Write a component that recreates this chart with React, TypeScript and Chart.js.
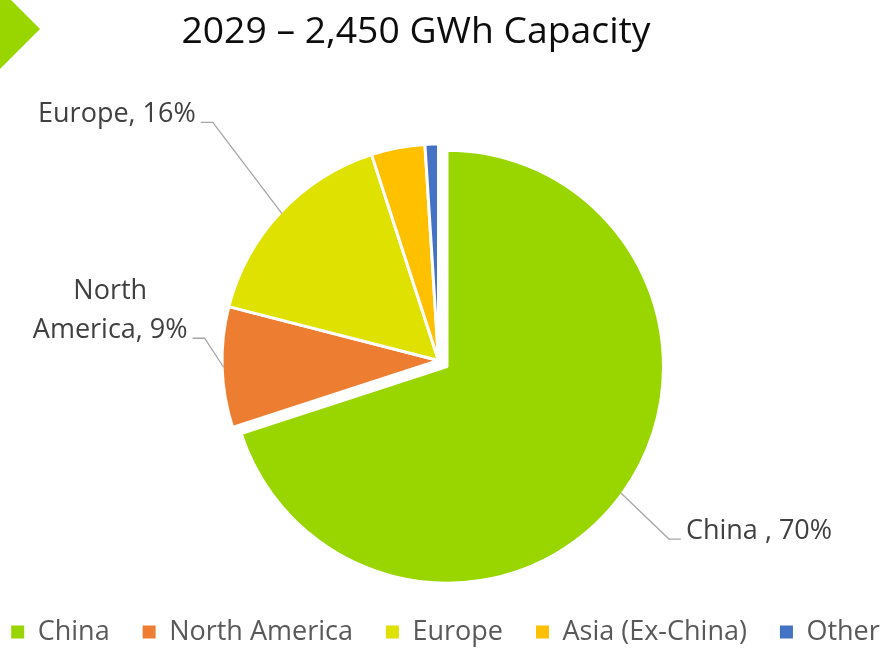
import React, { useEffect, useRef } from "react";
import { Chart, registerables } from "chart.js";

Chart.register(...registerables);

// ---- data ----
const categories = ["China", "North America", "Europe", "Asia (Ex-China)", "Other"];
const shares = [70, 9, 16, 4, 1];
const sliceColors = ["#99D600", "#ED7D31", "#DFE200", "#FFC000", "#4472C4"];
const titleText = "2029 – 2,450 GWh Capacity";
const dataLabels: (string[] | null)[] = [["China , 70%"], ["North", "America, 9%"], ["Europe, 16%"], null, null];
const explodeDistance = [10.5, 0, 0, 0, 0];

// ---- style ----
const FONT = "'Open Sans', sans-serif";
const CANVAS_SHIFT = 6; // canvas is placed this many px left of the page origin
const labelLayout: ({ dx: number; dy: number; side: number } | null)[] = [
  { dx: 48, dy: 46, side: 1 },
  { dx: -19, dy: -29, side: -1 },
  { dx: -69, dy: -91, side: -1 },
  null,
  null,
];

const explodePlugin = {
  id: "explodeSlices",
  afterDatasetsUpdate(chart: any) {
    const meta = chart.getDatasetMeta(0);
    meta.data.forEach((arc: any, i: number) => {
      const d = explodeDistance[i];
      if (!d) return;
      const mid = (arc.startAngle + arc.endAngle) / 2;
      arc.x += Math.cos(mid) * d;
      arc.y += Math.sin(mid) * d;
    });
  },
};

const leaderLabelPlugin = {
  id: "leaderLabels",
  afterDatasetsDraw(chart: any) {
    const ctx = chart.ctx as CanvasRenderingContext2D;
    const meta = chart.getDatasetMeta(0);
    meta.data.forEach((arc: any, i: number) => {
      const lay = labelLayout[i];
      const lines = dataLabels[i];
      if (!lay || !lines) return;
      const mid = (arc.startAngle + arc.endAngle) / 2;
      const r = arc.outerRadius - 1.5;
      const ax = arc.x + Math.cos(mid) * r;
      const ay = arc.y + Math.sin(mid) * r;
      const ex = ax + lay.dx;
      const ey = ay + lay.dy;
      const hx = ex + lay.side * 12;
      ctx.save();
      ctx.strokeStyle = "#A6A6A6";
      ctx.lineWidth = 1.3;
      ctx.beginPath();
      ctx.moveTo(ax, ay);
      ctx.lineTo(ex, ey);
      ctx.lineTo(hx, ey);
      ctx.stroke();
      ctx.font = `27px ${FONT}`;
      ctx.fillStyle = "#404040";
      ctx.textBaseline = "alphabetic";
      ctx.textAlign = "center";
      const w = Math.max(...lines.map((l) => ctx.measureText(l).width));
      const left = lay.side > 0 ? hx + 5 : hx - 5 - w;
      lines.forEach((l, k) => {
        const y = ey - (lines.length - 1 - k) * 39;
        ctx.fillText(l, left + w / 2, y);
      });
      ctx.restore();
    });
  },
};

const decorPlugin = {
  id: "decorTitle",
  afterDraw(chart: any) {
    const ctx = chart.ctx as CanvasRenderingContext2D;
    ctx.save();
    ctx.translate(CANVAS_SHIFT, 0);
    ctx.fillStyle = "#99D600";
    ctx.beginPath();
    ctx.moveTo(0, 0);
    ctx.lineTo(11, 0);
    ctx.lineTo(40, 29);
    ctx.lineTo(0, 69);
    ctx.closePath();
    ctx.fill();
    ctx.font = `37.3px ${FONT}`;
    ctx.fillStyle = "#0D0D0D";
    ctx.textAlign = "center";
    ctx.textBaseline = "alphabetic";
    ctx.fillText(titleText, 416, 43);
    ctx.restore();
  },
};

export default function App() {
  const canvasRef = useRef<HTMLCanvasElement | null>(null);

  useEffect(() => {
    if (!canvasRef.current) return;
    const chart = new Chart(canvasRef.current, {
      type: "pie",
      data: {
        labels: categories,
        datasets: [
          {
            data: shares,
            backgroundColor: sliceColors,
            borderColor: "#FFFFFF",
            borderWidth: 3,
          },
        ],
      },
      options: {
        responsive: false,
        animation: false,
        devicePixelRatio: 1,
        radius: 216.5,
        layout: { padding: { top: 135.5, bottom: -7.5, left: -25, right: -39 } },
        plugins: {
          tooltip: { enabled: false },
          title: { display: false },
          legend: {
            display: true,
            position: "bottom",
            labels: {
              boxWidth: 13,
              boxHeight: 13,
              padding: 33,
              color: "#595959",
              font: { family: FONT, size: 27 },
              generateLabels: (chart: any) => {
                const base = (Chart as any).overrides.pie.plugins.legend.labels.generateLabels(chart);
                return base.map((it: any) => ({ ...it, lineWidth: 0, strokeStyle: "rgba(0,0,0,0)" }));
              },
            },
          },
        },
      } as any,
      plugins: [explodePlugin, leaderLabelPlugin, decorPlugin],
    });
    return () => chart.destroy();
  }, []);

  return (
    <div
      style={{
        position: "absolute",
        left: 0,
        top: 0,
        width: 889,
        height: 648,
        overflow: "hidden",
        background: "#FFFFFF",
      }}
    >
      <canvas
        ref={canvasRef}
        width={889}
        height={648}
        style={{ display: "block", position: "absolute", left: -CANVAS_SHIFT, top: 0 }}
      />
    </div>
  );
}
